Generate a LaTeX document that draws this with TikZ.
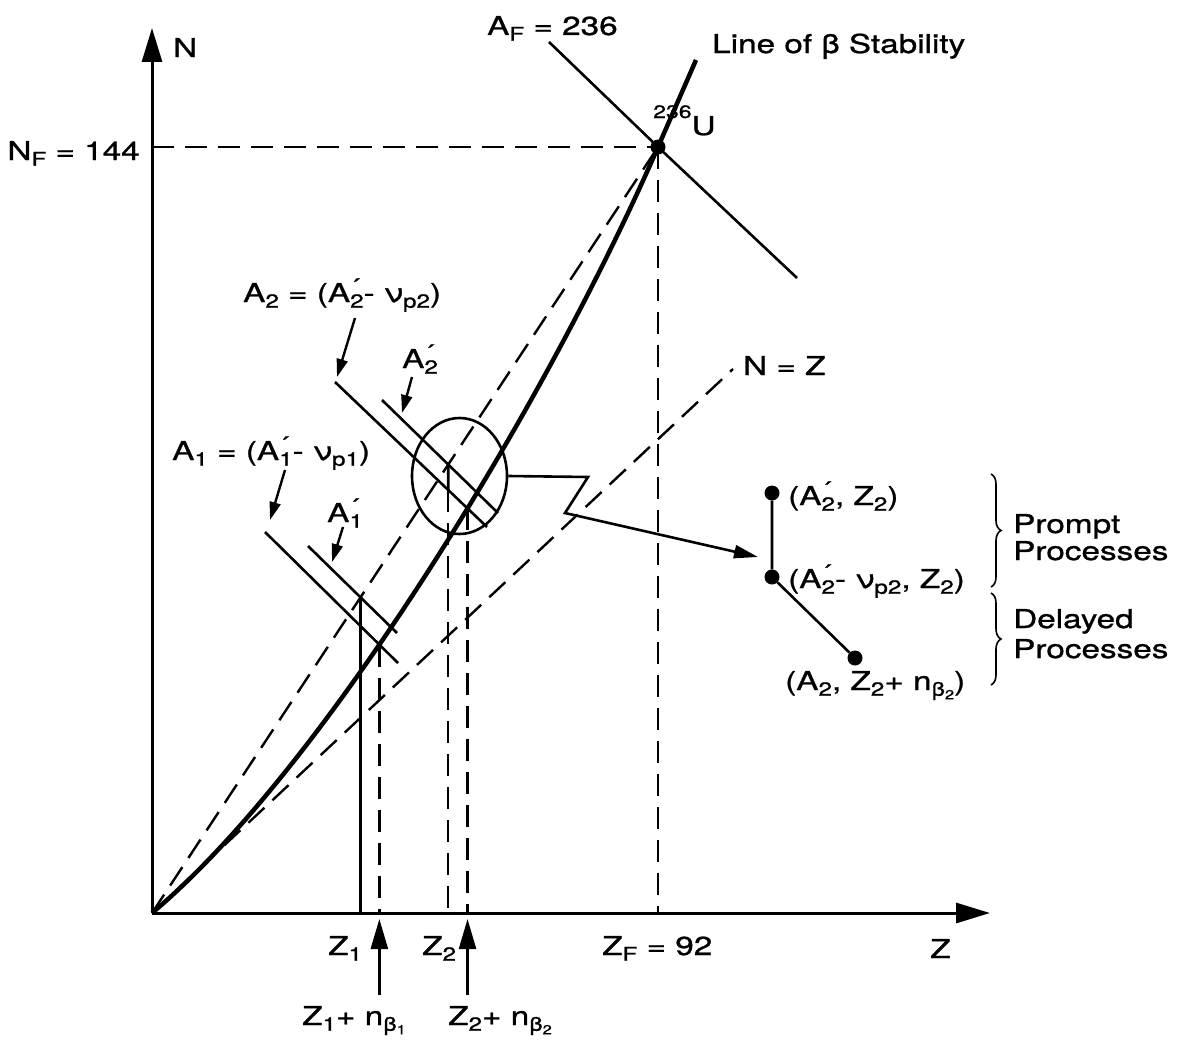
\documentclass[tikz,border=0pt]{standalone}
\usepackage{fontspec}
\setmainfont{TeX Gyre Heros}[FakeStretch=1.28,FakeBold=1.0]
\usetikzlibrary{arrows.meta,intersections,decorations.pathreplacing,calc,shapes.geometric}
\newcommand\lblfont{\fontsize{26}{29}\selectfont}
\newcommand\sbs[1]{\raisebox{-0.42ex}{\fontsize{19}{19}\selectfont #1}}
\newcommand\ssb[1]{\raisebox{-0.35ex}{\fontsize{13}{13}\selectfont #1}}
\newcommand\prm{\rlap{\raisebox{7.5pt}{\fontsize{22}{22}\selectfont ´}}}
\tikzset{
  lbl/.style={inner sep=0pt, anchor=base west, font=\lblfont},
  ln/.style={line width=2.6pt},
  axisln/.style={line width=3pt, -{Triangle[length=34pt,width=20pt]}},
  dsh/.style={line width=2.4pt, dash pattern=on 22pt off 11pt},
  ptr/.style={line width=2.4pt, -{Triangle[length=18pt,width=11pt]}},
  uparr/.style={line width=2.4pt, -{Triangle[length=30pt,width=17pt]}},
  dotn/.style={circle, fill, inner sep=0pt, minimum size=15pt},
  brc/.style={line width=1.6pt, decorate, decoration={brace,amplitude=10pt}},
}
\begin{document}
\begin{tikzpicture}[x=1pt,y=-1pt]
\useasboundingbox (0,0) rectangle (1177,1049);
% key points
\coordinate (O) at (152,913);
\coordinate (Ytip) at (152,28);
\coordinate (Xtip) at (990,913);
\coordinate (U) at (658,147);
\coordinate (NF) at (152,147);
\coordinate (ZF) at (658,913);
\coordinate (Stop) at (696,60);
\coordinate (AFtop) at (549,42);
\coordinate (AFbot) at (797,278);
\coordinate (NZend) at (733,369);
\coordinate (A1s) at (265,532); \coordinate (A1e) at (398,663);
\coordinate (A1ps) at (308,546); \coordinate (A1pe) at (397,633);
\coordinate (A2s) at (335,382); \coordinate (A2e) at (487,527);
\coordinate (A2ps) at (382,400); \coordinate (A2pe) at (498,513);

% axes
\draw[axisln] (O) -- (Ytip);
\draw[axisln] (O) -- (Xtip);

% dashed guide lines
\draw[dsh] (NF) -- (U);
\draw[dsh] (U) -- (ZF);
\draw[dsh, name path=diag] (O) -- (U);
\draw[dsh] (O) -- (NZend);

% line of beta stability
\draw[line width=4.5pt, name path=curve] (O) .. controls (325,768) and (548,400) .. (U) -- (Stop);

% A_F line
\draw[ln] (AFtop) -- (U) -- (AFbot);
\node[dotn] (Udot) at (U) {};

% mass lines
\draw[ln, name path=A1] (A1s) -- (A1e);
\draw[ln, name path=A1p] (A1ps) -- (A1pe);
\draw[ln, name path=A2] (A2s) -- (A2e);
\draw[ln, name path=A2p] (A2ps) -- (A2pe);

% verticals
\path[name intersections={of=A1p and diag, by=z1top}];
\path[name intersections={of=A1 and curve, by=z1b}];
\path[name intersections={of=A2p and diag, by=z2top}];
\path[name intersections={of=A2 and curve, by=z2b}];
\path[name path=v2] (z2top) -- (z2top |- O);
\path[name intersections={of=A2 and v2, by=z2mid}];
\draw[ln] (z1top) -- (z1top |- O);
\draw[dsh] (z1b) -- (z1b |- O);
\draw[ln] (z2top) -- (z2mid);
\draw[dsh] (z2mid) -- (z2mid |- O);
\draw[dsh] (z2b) -- (z2b |- O);

% ellipse and zigzag arrow
\node[draw, ellipse, line width=2.6pt, minimum width=95pt, minimum height=116pt, inner sep=0pt] (ell) at (459.5,476) {};
\coordinate (zz1) at (588,477);
\coordinate (zz2) at (565,513);
\coordinate (legtip) at (758,557);
\draw[ln, -{Triangle[length=24pt,width=13pt]}] (ell.east) -- (zz1) -- (zz2) -- (legtip);

% legend
\node[dotn] (p1) at (772,493) {};
\node[dotn] (p2) at (772,577) {};
\node[dotn] (p3) at (855,658) {};
\draw[ln] (p1) -- (p2) -- (p3);
\node[lbl] (t1) at (788,505) {(A\prm\sbs{2}, Z\sbs{2})};
\node[lbl] (t2) at (788,588) {(A\prm\sbs{2}- ν\sbs{p2}, Z\sbs{2})};
\node[lbl] (t3) at (785,690) {(A\sbs{2}, Z\sbs{2}+ n\sbs{β\ssb{2}})};
\draw[brc] (991,474) -- (991,587);
\draw[brc] (991,593) -- (991,685);
\node[lbl] (pr1) at (1013,533) {Prompt};
\node[lbl] (pr2) at (1013,560) {Processes};
\node[lbl] (de1) at (1013,628) {Delayed};
\node[lbl] (de2) at (1013,658) {Processes};

% top labels
\node[lbl] (Nlab) at (173,57) {N};
\node[lbl, anchor=base east] (NFlab) at (140,160) {N\sbs{F} = 144};
\node[lbl] (AFlab) at (487,35) {A\sbs{F} = 236};
\node[lbl] (Slab) at (712,53) {Line of β Stability};
\node[lbl] (Ulab) at (653,135) {\raisebox{17pt}{\fontsize{18}{18}\selectfont 236}U};
\node[lbl] (NZlab) at (743,375) {N = Z};

% mass line labels with pointers
\node[lbl] (A2lab) at (243,302) {A\sbs{2} = (A\prm\sbs{2}- ν\sbs{p2})};
\node[lbl] (A2plab) at (402,368) {A\prm\sbs{2}};
\node[lbl] (A1lab) at (172,460) {A\sbs{1} = (A\prm\sbs{1}- ν\sbs{p1})};
\node[lbl] (A1plab) at (327,522) {A\prm\sbs{1}};
\coordinate (a2t) at (355,318); \coordinate (a2h) at (337,377);
\coordinate (a2pt) at (412,377); \coordinate (a2ph) at (402,413);
\coordinate (a1t) at (285,470); \coordinate (a1h) at (270,520);
\coordinate (a1pt) at (343,527); \coordinate (a1ph) at (332,562);
\draw[ptr] (a2t) -- (a2h);
\draw[ptr] (a2pt) -- (a2ph);
\draw[ptr] (a1t) -- (a1h);
\draw[ptr] (a1pt) -- (a1ph);

% bottom labels
\node[lbl] (Z1lab) at (328,955) {Z\sbs{1}};
\node[lbl] (Z2lab) at (422,955) {Z\sbs{2}};
\node[lbl] (ZFlab) at (602,955) {Z\sbs{F} = 92};
\node[lbl] (Zlab) at (930,958) {Z};
\node[lbl] (Z1n) at (302,1025) {Z\sbs{1}+ n\sbs{β\ssb{1}}};
\node[lbl] (Z2n) at (448,1025) {Z\sbs{2}+ n\sbs{β\ssb{2}}};
\coordinate (b1t) at ($(z1b |- O)+(0,82)$);
\coordinate (b1h) at ($(z1b |- O)+(0,6)$);
\coordinate (b2t) at ($(z2b |- O)+(0,82)$);
\coordinate (b2h) at ($(z2b |- O)+(0,6)$);
\draw[uparr] (b1t) -- (b1h);
\draw[uparr] (b2t) -- (b2h);
\end{tikzpicture}
\end{document}
